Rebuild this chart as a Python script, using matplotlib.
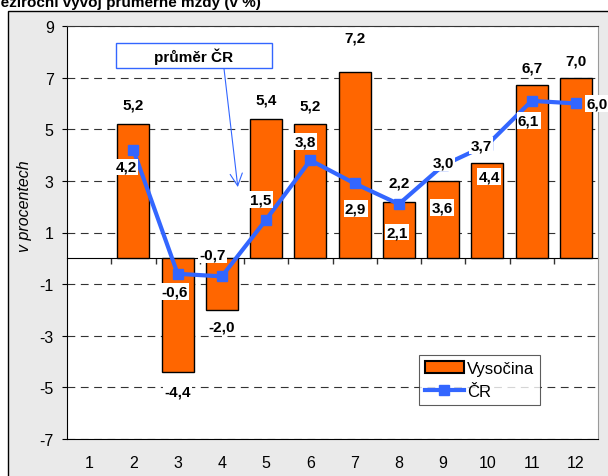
import numpy as np
import matplotlib.pyplot as plt
from matplotlib.patches import Rectangle, Patch
from matplotlib.lines import Line2D

plt.rcParams['font.family'] = ['Liberation Sans', 'DejaVu Sans']
plt.rcParams['axes.unicode_minus'] = False

# data (month 1 has no value)
months = list(range(1, 13))
vysocina = [None, 5.2, -4.4, -2.0, 5.4, 5.2, 7.2, 2.2, 3.0, 3.7, 6.7, 7.0]
cr = [None, 4.2, -0.6, -0.7, 1.5, 3.8, 2.9, 2.1, 3.6, 4.4, 6.1, 6.0]
y_ticks = [-7, -5, -3, -1, 1, 3, 5, 7, 9]

# label placement in pixels (dx, dy), as in the original
bar_offsets = [None, (0, 20), (0, -20), (0, -17), (0, 19), (0, 19), (0, 35),
               (0, 19), (0, 18), (-6, 17), (0, 18), (0, 17)]
line_offsets = [None, (-7, -17), (-3, -18), (-9, 22), (-5, 20), (-5, 19), (1, -25),
                (-2, -28), (-1, -42), (2, -32), (-3, -20), (21, 0)]

orange = '#FF6600'
blue = '#3366FF'


def fmt(v):
    return f"{v:.1f}".replace('.', ',')


fig = plt.figure(figsize=(6.08, 4.77), dpi=100, facecolor='white')
# outer chart frame (grey area), cropped at right and bottom
fig.add_artist(Rectangle((8 / 608, -0.5), 2, 1 - 12 / 477 + 0.5, transform=fig.transFigure,
                         fc='#eaeaea', ec='black', lw=1, zorder=-5))
fig.text(-0.02, 1 - 7 / 477, 'Meziroční vývoj průměrné mzdy (v %)', va='baseline',
         fontweight='bold', fontsize=11)

ax = fig.add_axes([67 / 608, 1 - 440 / 477, (598 - 67) / 608, (440 - 27) / 477])
ax.set_facecolor('white')

xs = [m for m, v in zip(months, vysocina) if v is not None]
bar_vals = [v for v in vysocina if v is not None]
line_vals = [v for v in cr if v is not None]

ax.bar(xs, bar_vals, width=0.72, color=orange, edgecolor='black', lw=1, zorder=2)
ax.plot(xs, line_vals, color=blue, lw=3, marker='s', ms=7, zorder=3)

for m, v, off in zip(months, vysocina, bar_offsets):
    if v is None:
        continue
    ax.annotate(fmt(v), (m, v), xytext=off, textcoords='offset pixels', ha='center', va='center',
                fontweight='bold', fontsize=11, bbox=dict(fc='white', ec='none', pad=1), zorder=5)
for m, v, off in zip(months, cr, line_offsets):
    if v is None:
        continue
    ax.annotate(fmt(v), (m, v), xytext=off, textcoords='offset pixels', ha='center', va='center',
                fontweight='bold', fontsize=11, bbox=dict(fc='white', ec='none', pad=1), zorder=5,
                annotation_clip=False)

ax.set_xlim(0.5, 12.5)
ax.set_ylim(-7, 9)
ax.set_yticks(y_ticks)
ax.set_xticks(months)
ax.yaxis.grid(True, ls=(0, (7, 5)), color='#333333', lw=0.8)
ax.set_axisbelow(True)
ax.tick_params(axis='y', length=3.6, direction='out', labelsize=11.5, pad=6)
ax.tick_params(axis='x', length=0, labelsize=11.5, pad=11.5)
ax.spines['left'].set_color('black')
ax.spines['bottom'].set_color('black')
ax.spines['top'].set_color('#333333')
ax.spines['right'].set_color('#9a9a9a')

ax.set_ylabel('v procentech', style='italic', fontsize=11.5)
ax.yaxis.set_label_coords(-0.065, 0.567)

# zero axis with category separators
ylo, yhi = ax.get_ylim()
zero_ax = ax.secondary_xaxis((0 - ylo) / (yhi - ylo))
zero_ax.set_xticks([m + 0.5 for m in months[:-1]])
zero_ax.tick_params(length=4, direction='out', labelbottom=False, width=1, color='#333333')
for s in zero_ax.spines.values():
    s.set_color('black')

ax.annotate('        průměr ČR        ', xy=(4.36, 2.76), xytext=(3.37, 7.86),
            ha='center', va='center', fontweight='bold', fontsize=11,
            bbox=dict(boxstyle='square,pad=0.3', fc='white', ec=blue, lw=1),
            arrowprops=dict(arrowstyle='->,head_length=0.8,head_width=0.4', color=blue, lw=0.8,
                            relpos=(0.7, 0), shrinkA=0, shrinkB=0), zorder=6)

handles = [Patch(fc=orange, ec='black', lw=1.5),
           Line2D([], [], color=blue, lw=3, marker='s', ms=7)]
leg = ax.legend(handles, ['Vysočina', 'ČR'], loc='upper left', bbox_to_anchor=(0.663, 0.203),
                fontsize=12, frameon=True, fancybox=False, edgecolor='#333333',
                borderaxespad=0, handlelength=2.35, handletextpad=0.2, borderpad=0.35,
                labelspacing=0.5)
leg.get_frame().set_linewidth(0.8)

fig.savefig('out.png', dpi=100, facecolor=fig.get_facecolor())
